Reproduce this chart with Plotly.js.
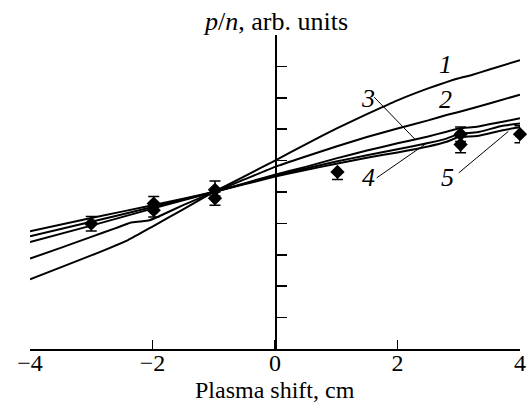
<!DOCTYPE html>
<html>
<head>
<meta charset="utf-8">
<script src="https://cdn.plot.ly/plotly-3.0.1.min.js"></script>
<style>
  html, body { margin: 0; padding: 0; background: #fff; }
  #chart { width: 529px; height: 406px; }
</style>
</head>
<body>
<div id="chart"></div>
<script>
// ---- Data ----
const curve1X = [-4, -3.5, -3, -2.4, -2, -1.5, -1, -0.5, 0, 0.5, 1, 1.5, 2, 2.5, 2.8, 3.0, 3.2, 3.5, 4];
const curve1Y = [2.22, 2.6, 2.98, 3.47, 3.9, 4.45, 5.0, 5.5, 6.0, 6.52, 7.02, 7.48, 7.92, 8.3, 8.5, 8.62, 8.72, 8.9, 9.2];

const curve2X = [-4, -3.5, -3, -2.6, -2.35, -2.2, -2.05, -1.9, -1.5, -1, -0.5, 0, 0.5, 1, 1.5, 2, 2.5, 2.8, 3, 3.5, 4];
const curve2Y = [2.88, 3.22, 3.57, 3.85, 4.03, 4.06, 4.1, 4.22, 4.58, 5.0, 5.4, 5.8, 6.13, 6.45, 6.75, 7.02, 7.28, 7.45, 7.55, 7.82, 8.1];

const curve3X = [-4, -3, -2, -1, 0, 0.5, 1, 1.5, 2, 2.5, 2.8, 3, 3.3, 3.7, 4];
const curve3Y = [3.41, 3.93, 4.47, 5.0, 5.55, 5.8, 6.07, 6.32, 6.55, 6.77, 6.92, 7.02, 7.08, 7.23, 7.35];

const curve4X = [-4, -3, -2, -1, 0, 0.5, 1, 1.5, 2, 2.5, 2.8, 3, 3.3, 3.7, 4];
const curve4Y = [3.59, 4.05, 4.52, 5.0, 5.52, 5.75, 5.97, 6.17, 6.36, 6.56, 6.7, 6.85, 6.9, 7.1, 7.18];

const curve5X = [-4, -3, -2, -1, 0, 0.5, 1, 1.5, 2, 2.5, 2.8, 3, 3.3, 3.7, 4];
const curve5Y = [3.75, 4.17, 4.58, 5.0, 5.49, 5.7, 5.9, 6.09, 6.26, 6.45, 6.6, 6.75, 6.78, 6.96, 7.06];

// measured points
const pointX = [-3, -1.98, -1.98, -0.98, -0.98, 1.02, 3.03, 3.03, 4.0];
const pointY = [3.99, 4.63, 4.42, 5.07, 4.8, 5.64, 6.84, 6.51, 6.84];
const errPlus = [0.23, 0.23, 0.22, 0.28, 0.2, 0, 0.23, 0.25, 0.27];
const errMinus = [0.23, 0.22, 0.22, 0.2, 0.22, 0.24, 0.23, 0.26, 0.27];

// curve labels and leader lines
const labelText = ['1', '2', '3', '4', '5'];
const labelX = [2.78, 2.78, 1.52, 1.52, 2.81];
const labelY = [9.05, 7.94, 7.99, 5.45, 5.45];
const leader3X = [1.62, 2.29], leader3Y = [8.02, 6.67];
const leader4X = [1.66, 2.48], leader4Y = [5.45, 6.56];
const leader5X = [3.0, 3.81],  leader5Y = [5.61, 6.93];

const xTickVals = [-4, -2, 0, 2, 4];
const xTickText = ['\u22124', '\u22122', '0', '2', '4'];
const yTickVals = [1, 2, 3, 4, 5, 6, 7, 8, 9];
const xTitle = 'Plasma shift, cm';
const yTitle = '<i>p</i>/<i>n</i>, arb. units';

// ---- Plot ----
const FONT = '"Liberation Serif", "Times New Roman", Times, serif';
const lineStyle = {color: '#000', width: 2, shape: 'spline', smoothing: 0.4};
const curves = [[curve1X, curve1Y], [curve2X, curve2Y], [curve3X, curve3Y], [curve4X, curve4Y], [curve5X, curve5Y]];
const traces = curves.map(c => ({
  x: c[0], y: c[1], mode: 'lines', line: lineStyle, hoverinfo: 'skip', showlegend: false
}));
[[leader3X, leader3Y], [leader4X, leader4Y], [leader5X, leader5Y]].forEach(l => {
  traces.push({x: l[0], y: l[1], mode: 'lines', line: {color: '#000', width: 1}, showlegend: false, hoverinfo: 'skip'});
});
traces.push({
  x: pointX, y: pointY, mode: 'markers', showlegend: false, cliponaxis: false,
  marker: {symbol: 'diamond', size: 11, color: '#000'},
  error_y: {type: 'data', symmetric: false, array: errPlus, arrayminus: errMinus,
            color: '#000', thickness: 1.5, width: 5.5}
});

const annotations = labelText.map((t, i) => ({
  x: labelX[i], y: labelY[i], xref: 'x', yref: 'y', text: '<i>' + t + '</i>',
  showarrow: false, font: {family: FONT, size: 26, color: '#000'}
}));
annotations.push({
  x: 0, y: 1, xref: 'x', yref: 'paper', yanchor: 'bottom', yshift: -3,
  text: yTitle, showarrow: false,
  font: {family: FONT, size: 26, color: '#000'}
});
annotations.push({
  x: 0, y: 0, xref: 'x', yref: 'paper', yanchor: 'bottom', yshift: -56,
  text: xTitle, showarrow: false,
  font: {family: FONT, size: 24, color: '#000'}
});

const layout = {
  width: 529, height: 406,
  margin: {l: 30, r: 9, t: 35, b: 57},
  paper_bgcolor: '#fff', plot_bgcolor: '#fff',
  font: {family: FONT, size: 26, color: '#000'},
  showlegend: false,
  xaxis: {
    range: [-4, 4], showgrid: false, zeroline: false,
    showline: true, linecolor: '#000', linewidth: 1.5,
    ticks: 'inside', ticklen: 9, tickwidth: 1.5, tickcolor: '#000',
    tickvals: xTickVals, ticktext: xTickText, ticklabelstandoff: -8,
    tickfont: {family: FONT, size: 24, color: '#000'},
    automargin: false, fixedrange: true
  },
  yaxis: {
    range: [0, 10], anchor: 'free', position: 0.5,
    showgrid: false, zeroline: false,
    showline: true, linecolor: '#000', linewidth: 1.5,
    ticks: 'inside', ticklen: 10, tickwidth: 1.5, tickcolor: '#000',
    tickvals: yTickVals, showticklabels: false,
    automargin: false, fixedrange: true
  },
  annotations: annotations
};

Plotly.newPlot('chart', traces, layout, {displayModeBar: false, staticPlot: true});
</script>
</body>
</html>
